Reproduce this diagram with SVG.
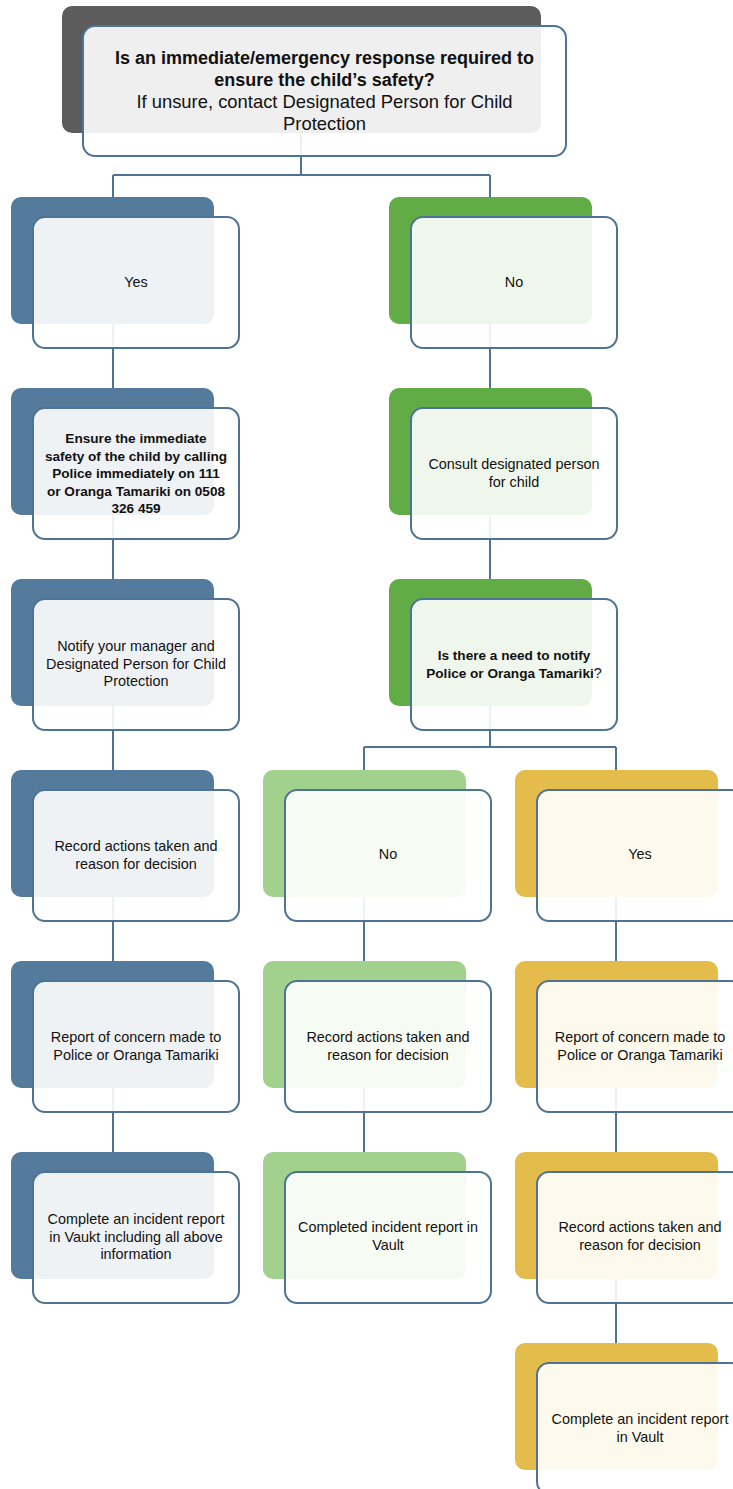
<svg xmlns="http://www.w3.org/2000/svg" width="733" height="1489" viewBox="0 0 733 1489">
<style>
.bk{stroke:none}
.blue{fill:#557b9c}
.green{fill:#62ac46}
.lgreen{fill:#a1d18c}
.gold{fill:#e4bc4c}
.gray{fill:#5c5c5c}
.fr{fill:#ffffff;fill-opacity:0.9;stroke:#4e7395;stroke-width:2}
.con{fill:none;stroke:#4e7395;stroke-width:2}
text{font-family:"Liberation Sans",Arial,sans-serif;font-size:14.4px;fill:#111;text-anchor:middle}
.b{font-weight:bold;font-size:13.6px}
.t{font-size:18.4px}
.tb{font-size:18px;font-weight:bold}
</style>
<rect width="733" height="1489" fill="#ffffff"/>
<g id="connectors">
<path class="con" d="M301,133V175M113,175H490M113,175V197M490,175V197"/>
<path class="con" d="M113,324V388M113,515V579M113,706V770M113,897V961M113,1088V1152"/>
<path class="con" d="M490,324V388M490,515V579M490,706V747M364,747H616M364,747V770M616,747V770"/>
<path class="con" d="M364,897V961M364,1088V1152"/>
<path class="con" d="M616,897V961M616,1088V1152M616,1279V1343"/>
</g>
<g id="n_top">
<rect class="bk gray" x="62" y="6" width="479" height="127" rx="10"/>
<rect class="fr" x="83" y="26" width="483" height="130" rx="12"/>
<text class="tb" x="324.5" y="64">Is an immediate/emergency response required to</text>
<text class="tb" x="324.5" y="86">ensure the child’s safety?</text>
<text class="t" x="324.5" y="108">If unsure, contact Designated Person for Child</text>
<text class="t" x="324.5" y="130">Protection</text>
</g>
<g id="n_yes">
<rect class="bk blue" x="11" y="197" width="203" height="127" rx="10"/>
<rect class="fr" x="33" y="217" width="206" height="131" rx="12"/>
<text x="136" y="287">Yes</text>
</g>
<g id="n_ensure">
<rect class="bk blue" x="11" y="388" width="203" height="127" rx="10"/>
<rect class="fr" x="33" y="408" width="206" height="131" rx="12"/>
<text class="b" x="136" y="443">Ensure the immediate</text>
<text class="b" x="136" y="460.5">safety of the child by calling</text>
<text class="b" x="136" y="478">Police immediately on 111</text>
<text class="b" x="136" y="495.5">or Oranga Tamariki on 0508</text>
<text class="b" x="136" y="513">326 459</text>
</g>
<g id="n_notify">
<rect class="bk blue" x="11" y="579" width="203" height="127" rx="10"/>
<rect class="fr" x="33" y="599" width="206" height="131" rx="12"/>
<text x="136" y="651">Notify your manager and</text>
<text x="136" y="668.5">Designated Person for Child</text>
<text x="136" y="686">Protection</text>
</g>
<g id="n_record1">
<rect class="bk blue" x="11" y="770" width="203" height="127" rx="10"/>
<rect class="fr" x="33" y="790" width="206" height="131" rx="12"/>
<text x="136" y="851">Record actions taken and</text>
<text x="136" y="868.5">reason for decision</text>
</g>
<g id="n_report1">
<rect class="bk blue" x="11" y="961" width="203" height="127" rx="10"/>
<rect class="fr" x="33" y="981" width="206" height="131" rx="12"/>
<text x="136" y="1042">Report of concern made to</text>
<text x="136" y="1059.5">Police or Oranga Tamariki</text>
</g>
<g id="n_complete1">
<rect class="bk blue" x="11" y="1152" width="203" height="127" rx="10"/>
<rect class="fr" x="33" y="1172" width="206" height="131" rx="12"/>
<text x="136" y="1224">Complete an incident report</text>
<text x="136" y="1241.5">in Vaukt including all above</text>
<text x="136" y="1259">information</text>
</g>
<g id="n_no">
<rect class="bk green" x="389" y="197" width="203" height="127" rx="10"/>
<rect class="fr" x="411" y="217" width="206" height="131" rx="12"/>
<text x="514" y="287">No</text>
</g>
<g id="n_consult">
<rect class="bk green" x="389" y="388" width="203" height="127" rx="10"/>
<rect class="fr" x="411" y="408" width="206" height="131" rx="12"/>
<text x="514" y="469">Consult designated person</text>
<text x="514" y="486.5">for child</text>
</g>
<g id="n_need">
<rect class="bk green" x="389" y="579" width="203" height="127" rx="10"/>
<rect class="fr" x="411" y="599" width="206" height="131" rx="12"/>
<text class="b" x="514" y="660">Is there a need to notify</text>
<text x="514" y="677.5"><tspan class="b">Police or Oranga Tamariki</tspan>?</text>
</g>
<g id="n_no2">
<rect class="bk lgreen" x="263" y="770" width="203" height="127" rx="10"/>
<rect class="fr" x="285" y="790" width="206" height="131" rx="12"/>
<text x="388" y="859">No</text>
</g>
<g id="n_record2">
<rect class="bk lgreen" x="263" y="961" width="203" height="127" rx="10"/>
<rect class="fr" x="285" y="981" width="206" height="131" rx="12"/>
<text x="388" y="1042">Record actions taken and</text>
<text x="388" y="1059.5">reason for decision</text>
</g>
<g id="n_completed2">
<rect class="bk lgreen" x="263" y="1152" width="203" height="127" rx="10"/>
<rect class="fr" x="285" y="1172" width="206" height="131" rx="12"/>
<text x="388" y="1232">Completed incident report in</text>
<text x="388" y="1249.5">Vault</text>
</g>
<g id="n_yes2">
<rect class="bk gold" x="515" y="770" width="203" height="127" rx="10"/>
<rect class="fr" x="537" y="790" width="206" height="131" rx="12"/>
<text x="640" y="859">Yes</text>
</g>
<g id="n_report3">
<rect class="bk gold" x="515" y="961" width="203" height="127" rx="10"/>
<rect class="fr" x="537" y="981" width="206" height="131" rx="12"/>
<text x="640" y="1042">Report of concern made to</text>
<text x="640" y="1059.5">Police or Oranga Tamariki</text>
</g>
<g id="n_record3">
<rect class="bk gold" x="515" y="1152" width="203" height="127" rx="10"/>
<rect class="fr" x="537" y="1172" width="206" height="131" rx="12"/>
<text x="640" y="1232">Record actions taken and</text>
<text x="640" y="1249.5">reason for decision</text>
</g>
<g id="n_complete3">
<rect class="bk gold" x="515" y="1343" width="203" height="127" rx="10"/>
<rect class="fr" x="537" y="1363" width="206" height="131" rx="12"/>
<text x="640" y="1424">Complete an incident report</text>
<text x="640" y="1441.5">in Vault</text>
</g>
</svg>
